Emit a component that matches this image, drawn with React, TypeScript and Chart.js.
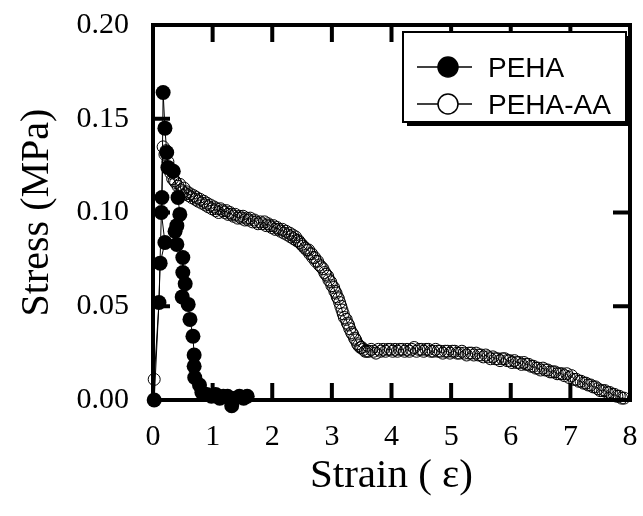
import React, { useEffect, useRef } from "react";
import { Chart, registerables } from "chart.js";

Chart.register(...registerables);

const seriesNames = ["PEHA", "PEHA-AA"];

const strainTicks = [0, 1, 2, 3, 4, 5, 6, 7, 8];
const stressTicks = [0, 0.05, 0.1, 0.15, 0.2];

const pehaStrain = [0.02, 0.10, 0.12, 0.20, 0.14, 0.15, 0.17, 0.20, 0.23, 0.25, 0.34, 0.42, 0.45, 0.40, 0.37, 0.40, 0.50, 0.50, 0.54, 0.49, 0.59, 0.62, 0.67, 0.69, 0.69, 0.70, 0.78, 0.82, 0.90, 0.98, 1.05, 1.12, 1.18, 1.25, 1.32, 1.38, 1.45, 1.52, 1.58];
const pehaStress = [0.000, 0.052, 0.073, 0.084, 0.100, 0.108, 0.164, 0.145, 0.132, 0.124, 0.122, 0.108, 0.099, 0.093, 0.090, 0.083, 0.076, 0.068, 0.062, 0.055, 0.051, 0.043, 0.034, 0.024, 0.018, 0.012, 0.008, 0.004, 0.003, 0.002, 0.003, 0.001, 0.002, 0.002, -0.003, 0.001, 0.002, 0.001, 0.002];

const aaStrain = [0.02, 0.10, 0.17, 0.20, 0.22, 0.25, 0.28, 0.30, 0.33, 0.36, 0.38, 0.42, 0.45, 0.47, 0.50, 0.52, 0.55, 0.57, 0.60, 0.62, 0.65, 0.68, 0.71, 0.73, 0.76, 0.79, 0.82, 0.85, 0.88, 0.90, 0.93, 0.96, 0.99, 1.02, 1.05, 1.07, 1.10, 1.13, 1.17, 1.20, 1.23, 1.26, 1.29, 1.32, 1.35, 1.38, 1.42, 1.45, 1.48, 1.51, 1.54, 1.57, 1.60, 1.63, 1.67, 1.70, 1.73, 1.76, 1.80, 1.83, 1.87, 1.90, 1.93, 1.96, 1.99, 2.02, 2.05, 2.08, 2.11, 2.14, 2.17, 2.20, 2.23, 2.26, 2.29, 2.31, 2.34, 2.36, 2.39, 2.41, 2.44, 2.46, 2.49, 2.52, 2.55, 2.58, 2.61, 2.63, 2.66, 2.68, 2.71, 2.73, 2.76, 2.79, 2.82, 2.85, 2.88, 2.90, 2.93, 2.95, 2.98, 3.00, 3.03, 3.05, 3.07, 3.09, 3.11, 3.13, 3.15, 3.17, 3.19, 3.21, 3.24, 3.26, 3.28, 3.30, 3.33, 3.35, 3.38, 3.40, 3.43, 3.45, 3.48, 3.50, 3.53, 3.56, 3.59, 3.62, 3.66, 3.70, 3.74, 3.78, 3.82, 3.86, 3.90, 3.94, 3.98, 4.02, 4.06, 4.10, 4.14, 4.18, 4.22, 4.26, 4.30, 4.34, 4.38, 4.42, 4.46, 4.50, 4.54, 4.58, 4.62, 4.66, 4.70, 4.74, 4.78, 4.82, 4.86, 4.90, 4.94, 4.98, 5.02, 5.06, 5.10, 5.14, 5.18, 5.22, 5.26, 5.30, 5.34, 5.38, 5.42, 5.46, 5.50, 5.54, 5.58, 5.62, 5.66, 5.70, 5.74, 5.78, 5.82, 5.86, 5.90, 5.94, 5.98, 6.02, 6.06, 6.10, 6.14, 6.18, 6.22, 6.26, 6.30, 6.34, 6.38, 6.42, 6.46, 6.50, 6.54, 6.58, 6.62, 6.66, 6.70, 6.74, 6.78, 6.82, 6.86, 6.90, 6.94, 6.98, 7.02, 7.06, 7.10, 7.14, 7.18, 7.22, 7.26, 7.30, 7.34, 7.38, 7.42, 7.46, 7.50, 7.54, 7.58, 7.62, 7.66, 7.70, 7.74, 7.78, 7.82, 7.86, 7.90, 7.93, 7.97, 8.00];
const aaStress = [0.011, 0.052, 0.135, 0.131, 0.133, 0.127, 0.124, 0.121, 0.118, 0.117, 0.116, 0.114, 0.115, 0.112, 0.111, 0.113, 0.110, 0.111, 0.109, 0.110, 0.108, 0.109, 0.107, 0.108, 0.106, 0.107, 0.105, 0.106, 0.104, 0.105, 0.103, 0.104, 0.102, 0.103, 0.101, 0.102, 0.100, 0.102, 0.101, 0.100, 0.101, 0.099, 0.100, 0.099, 0.098, 0.099, 0.097, 0.098, 0.097, 0.098, 0.096, 0.097, 0.096, 0.097, 0.095, 0.096, 0.095, 0.094, 0.095, 0.094, 0.095, 0.093, 0.094, 0.093, 0.092, 0.093, 0.091, 0.092, 0.091, 0.090, 0.091, 0.089, 0.090, 0.088, 0.089, 0.087, 0.088, 0.086, 0.087, 0.085, 0.085, 0.084, 0.083, 0.082, 0.081, 0.080, 0.080, 0.078, 0.078, 0.076, 0.076, 0.074, 0.074, 0.072, 0.071, 0.070, 0.068, 0.067, 0.066, 0.064, 0.063, 0.061, 0.060, 0.058, 0.057, 0.055, 0.054, 0.052, 0.050, 0.048, 0.046, 0.044, 0.043, 0.041, 0.040, 0.038, 0.036, 0.035, 0.033, 0.032, 0.030, 0.029, 0.028, 0.028, 0.027, 0.026, 0.026, 0.026, 0.027, 0.026, 0.025, 0.027, 0.026, 0.027, 0.026, 0.027, 0.027, 0.026, 0.027, 0.026, 0.027, 0.027, 0.026, 0.027, 0.026, 0.027, 0.028, 0.026, 0.027, 0.027, 0.026, 0.027, 0.027, 0.026, 0.026, 0.027, 0.026, 0.026, 0.025, 0.026, 0.026, 0.025, 0.026, 0.026, 0.025, 0.025, 0.026, 0.025, 0.024, 0.025, 0.025, 0.024, 0.025, 0.024, 0.024, 0.023, 0.024, 0.023, 0.022, 0.023, 0.022, 0.022, 0.021, 0.022, 0.022, 0.021, 0.021, 0.020, 0.021, 0.020, 0.020, 0.019, 0.020, 0.019, 0.019, 0.018, 0.018, 0.017, 0.017, 0.016, 0.017, 0.016, 0.016, 0.015, 0.015, 0.015, 0.014, 0.014, 0.014, 0.013, 0.014, 0.012, 0.013, 0.011, 0.011, 0.010, 0.010, 0.009, 0.009, 0.008, 0.008, 0.007, 0.007, 0.006, 0.005, 0.005, 0.005, 0.004, 0.004, 0.003, 0.003, 0.002, 0.002, 0.001, 0.001];

const serif = "'Liberation Serif', 'Times New Roman', Times, serif";
const sans = "'Liberation Sans', Arial, Helvetica, sans-serif";

const framePlugin = {
  id: "frame",
  beforeDatasetsDraw(chart: any) {
    const { ctx, chartArea: a, scales } = chart;
    ctx.save();
    ctx.strokeStyle = "#000";
    ctx.lineWidth = 4;
    ctx.strokeRect(a.left, a.top, a.right - a.left, a.bottom - a.top);
    const L = 17;
    ctx.beginPath();
    for (const v of strainTicks.slice(1, -1)) {
      const x = scales.x.getPixelForValue(v);
      ctx.moveTo(x, a.bottom);
      ctx.lineTo(x, a.bottom - L);
      ctx.moveTo(x, a.top);
      ctx.lineTo(x, a.top + L);
    }
    for (const v of stressTicks.slice(1, -1)) {
      const y = scales.y.getPixelForValue(v);
      ctx.moveTo(a.left, y);
      ctx.lineTo(a.left + L, y);
      ctx.moveTo(a.right, y);
      ctx.lineTo(a.right - L, y);
    }
    ctx.stroke();
    ctx.restore();
  },
};

const legendPlugin = {
  id: "boxLegend",
  afterDraw(chart: any) {
    const { ctx, chartArea: a } = chart;
    const w = 223;
    const h = 90;
    const x0 = a.right - 4 - w;
    const y0 = a.top + 7;
    ctx.save();
    ctx.fillStyle = "#000";
    ctx.fillRect(x0 + 4, y0 + 4, w, h);
    ctx.fillStyle = "#fff";
    ctx.fillRect(x0, y0, w, h);
    ctx.strokeStyle = "#000";
    ctx.lineWidth = 2;
    ctx.strokeRect(x0, y0, w, h);
    chart.data.datasets.forEach((ds: any, i: number) => {
      const ly = y0 + 35 + i * 37;
      ctx.beginPath();
      ctx.lineWidth = 1.5;
      ctx.moveTo(x0 + 14, ly);
      ctx.lineTo(x0 + 69, ly);
      ctx.stroke();
      ctx.beginPath();
      ctx.arc(x0 + 45, ly, 10, 0, Math.PI * 2);
      ctx.fillStyle = ds.legendFill;
      ctx.fill();
      ctx.lineWidth = 1.5;
      ctx.stroke();
      ctx.fillStyle = "#000";
      ctx.font = `28px ${sans}`;
      ctx.textBaseline = "alphabetic";
      ctx.textAlign = "left";
      ctx.fillText(ds.label, x0 + 85, ly + 10);
    });
    ctx.restore();
  },
};

export default function App() {
  const ref = useRef<HTMLCanvasElement | null>(null);
  useEffect(() => {
    if (!ref.current) return;
    const chart = new Chart(ref.current, {
      type: "scatter",
      data: {
        datasets: [
          {
            label: seriesNames[0],
            data: pehaStrain.map((x, i) => ({ x, y: pehaStress[i] })),
            showLine: true,
            borderColor: "#000",
            borderWidth: 1,
            pointRadius: 7.5,
            pointBackgroundColor: "#000",
            pointBorderColor: "#000",
            pointBorderWidth: 0,
            clip: false,
            legendFill: "#000",
            order: 2,
          } as any,
          {
            label: seriesNames[1],
            data: aaStrain.map((x, i) => ({ x, y: aaStress[i] })),
            showLine: true,
            borderColor: "#000",
            borderWidth: 1,
            pointRadius: 6,
            pointBackgroundColor: "rgba(0,0,0,0)",
            pointBorderColor: "#000",
            pointBorderWidth: 1,
            clip: false,
            legendFill: "#fff",
            order: 1,
          } as any,
        ],
      },
      options: {
        animation: false,
        responsive: false,
        devicePixelRatio: 1,
        layout: { padding: { top: 25, right: 13, left: 0, bottom: 0 } },
        plugins: { legend: { display: false }, tooltip: { enabled: false } },
        scales: {
          x: {
            type: "linear",
            min: 0,
            max: 8,
            afterBuildTicks: (s: any) => {
              s.ticks = strainTicks.map((v) => ({ value: v }));
            },
            afterFit: (s: any) => {
              s.height = 116;
              s.paddingLeft = 0;
              s.paddingRight = 0;
              s.paddingTop = 0;
              s.paddingBottom = 0;
            },
            grid: { display: false },
            border: { display: false },
            ticks: {
              color: "#000",
              font: { family: serif, size: 30 },
              padding: 11,
              maxRotation: 0,
              callback: (v: any) => String(v),
            },
            title: {
              display: true,
              text: "Strain ( ε)",
              color: "#000",
              font: { family: serif, size: 41 },
              padding: { top: 0, bottom: 15 },
            },
          },
          y: {
            type: "linear",
            min: 0,
            max: 0.2,
            afterBuildTicks: (s: any) => {
              s.ticks = stressTicks.map((v) => ({ value: v }));
            },
            afterFit: (s: any) => {
              s.width = 153;
              s.paddingLeft = 0;
              s.paddingRight = 0;
              s.paddingTop = 0;
              s.paddingBottom = 0;
            },
            grid: { display: false },
            border: { display: false },
            ticks: {
              color: "#000",
              font: { family: serif, size: 30 },
              padding: 16,
              callback: (v: any) => Number(v).toFixed(2),
            },
            title: {
              display: true,
              text: "Stress (MPa)",
              color: "#000",
              font: { family: serif, size: 40 },
              padding: { top: 13, bottom: 0 },
            },
          },
        },
      },
      plugins: [framePlugin, legendPlugin],
    });
    return () => chart.destroy();
  }, []);
  return (
    <div style={{ position: "fixed", left: 0, top: 0, width: 643, height: 516, background: "#fff" }}>
      <canvas ref={ref} width={643} height={516} style={{ width: 643, height: 516, display: "block" }} />
    </div>
  );
}
